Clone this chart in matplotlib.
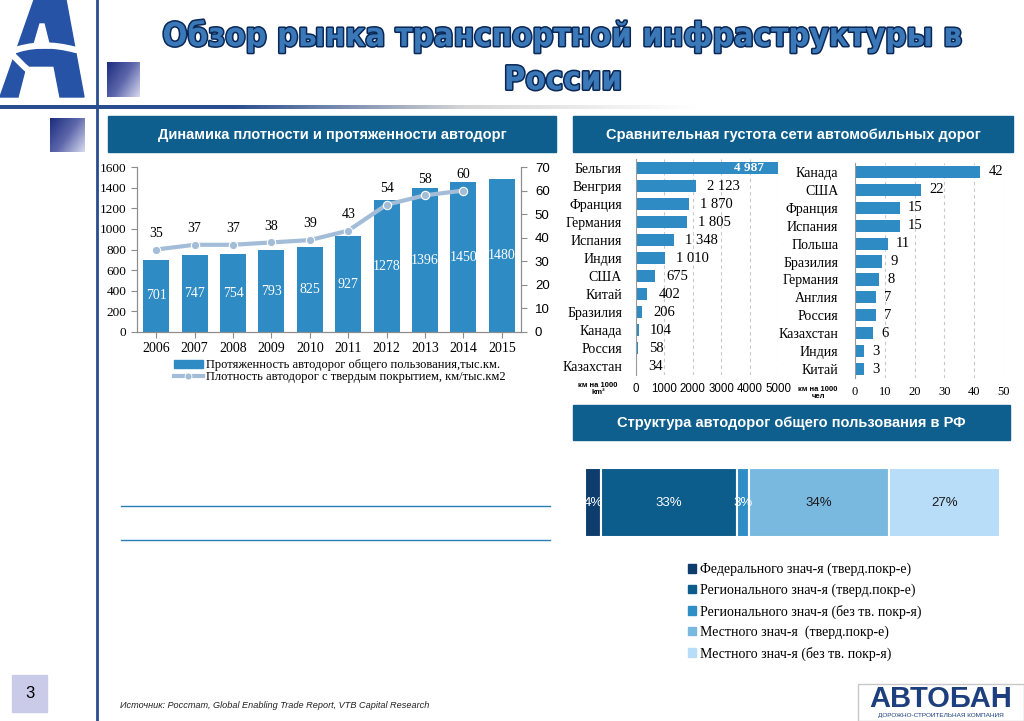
import numpy as np
import matplotlib
matplotlib.use('Agg')
import matplotlib.pyplot as plt
from matplotlib.patches import Rectangle, Polygon, PathPatch
from matplotlib.path import Path
from matplotlib.lines import Line2D
import matplotlib.patheffects as pe
from matplotlib.colors import LinearSegmentedColormap

W, H = 1024, 721

# --- data ---
years = ['2006', '2007', '2008', '2009', '2010', '2011', '2012', '2013', '2014', '2015']
length_km = [701, 747, 754, 793, 825, 927, 1278, 1396, 1450, 1480]
density = [35, 37, 37, 38, 39, 43, 54, 58, 60]

area_countries = ['Бельгия', 'Венгрия', 'Франция', 'Германия', 'Испания', 'Индия',
                  'США', 'Китай', 'Бразилия', 'Канада', 'Россия', 'Казахстан']
area_values = [4987, 2123, 1870, 1805, 1348, 1010, 675, 402, 206, 104, 58, 34]

pop_countries = ['Канада', 'США', 'Франция', 'Испания', 'Польша', 'Бразилия',
                 'Германия', 'Англия', 'Россия', 'Казахстан', 'Индия', 'Китай']
pop_values = [42, 22, 15, 15, 11, 9, 8, 7, 7, 6, 3, 3]

struct_labels = ['Федерального знач-я (тверд.покр-е)',
                 'Регионального знач-я (тверд.покр-е)',
                 'Регионального знач-я (без тв. покр-я)',
                 'Местного знач-я  (тверд.покр-е)',
                 'Местного знач-я (без тв. покр-я)']
struct_shares = [4, 33, 3, 34, 27]

# --- styles ---
serif = ['Liberation Serif', 'DejaVu Serif']
sans = ['Liberation Sans', 'DejaVu Sans']
hdr_c = '#0e5f8d'
bar_c = '#2f8bc3'
line_c = '#a3bdd8'
logo_c = '#2653a5'
struct_c = ['#0d3d6c', '#0c5c8c', '#2f8ec6', '#79b9df', '#b8ddf8']
struct_txt = ['white', 'white', 'white', '#1a1a1a', '#1a1a1a']


def rect(x0, y0, x1, y1):
    return [x0 / W, 1 - y1 / H, (x1 - x0) / W, (y1 - y0) / H]


fig = plt.figure(figsize=(10.24, 7.21), dpi=100)
fig.patch.set_facecolor('white')

# background layer in pixel coords
bg = fig.add_axes([0, 0, 1, 1])
bg.axis('off')

cm_line = LinearSegmentedColormap.from_list('l', ['#2a4d8f', '#2a4d8f', '#d6d6d6', '#ffffff'])
bg.imshow(np.linspace(0, 1, 200)[None, :], cmap=cm_line, extent=(0, 700, 109, 105), aspect='auto')
bg.plot([97, 97], [0, H], color='#2a4d8f', lw=2)

cm_sq = LinearSegmentedColormap.from_list('s', ['#1e2f80', '#5c66aa', '#d5d8ee'])
gx, gy = np.meshgrid(np.linspace(0, 1, 30), np.linspace(0, 1, 30))
for (x0, y0, x1, y1) in [(107, 62, 140, 97), (50, 118, 85, 152)]:
    bg.imshow(0.6 * gx + 0.4 * gy, cmap=cm_sq, extent=(x0, x1, y1, y0), aspect='auto')

# logo top-left: stylised "A" with a white road curve
bg.add_patch(Polygon([(34, 0), (66, 0), (84, 97), (60, 97), (54, 66), (26, 66),
                      (18, 97), (0, 97)], closed=True, color=logo_c))
bg.add_patch(Polygon([(40, 24), (44, 24), (50, 48), (33, 48)], closed=True, color='white'))
road = Path([(76, 50), (40, 40), (10, 52), (28, 72), (48, 86), (44, 97)],
            [Path.MOVETO, Path.CURVE3, Path.CURVE3, Path.CURVE3, Path.CURVE3, Path.LINETO])
bg.add_patch(PathPatch(road, fill=False, edgecolor='white', lw=4.5, capstyle='round'))

# title, fitted to the width of the reference title
title_fx = [pe.withStroke(linewidth=2.2, foreground='#0a2756')]
t1 = bg.text(563, 36, 'Обзор рынка транспортной инфраструктуры в', fontsize=30,
             fontweight='bold', family='DejaVu Sans', fontstretch='condensed',
             color='#3a78b8', ha='center', va='center', path_effects=title_fx)
t2 = bg.text(563, 80, 'России', fontsize=30, fontweight='bold', family='DejaVu Sans',
             fontstretch='condensed', color='#3a78b8', ha='center', va='center',
             path_effects=title_fx)
renderer = fig.canvas.get_renderer()
tw = t1.get_window_extent(renderer).width
fs = min(30, 30 * 798 / tw)
t1.set_fontsize(fs)
t2.set_fontsize(fs)

# header boxes
headers = [((108, 116, 556, 152), 'Динамика плотности и протяженности автодорг'),
           ((573, 116, 1013, 152), 'Сравнительная густота сети автомобильных дорог'),
           ((573, 405, 1010, 440), 'Структура автодорог общего пользования в РФ')]
for (x0, y0, x1, y1), t in headers:
    bg.add_patch(Rectangle((x0, y0), x1 - x0, y1 - y0, color=hdr_c))
    bg.text((x0 + x1) / 2, (y0 + y1) / 2 + 1, t, color='white', fontsize=10.5,
            fontweight='bold', family=sans, ha='center', va='center')

# separator lines bottom-left
for yy in [506, 540]:
    bg.plot([121, 550], [yy, yy], color='#2b7bb9', lw=1)

# footer
bg.add_patch(Rectangle((12, 675), 35, 37, color='#c9cbe9'))
bg.text(29.5, 694, '3', fontsize=12, family=sans, ha='center', va='center')
bg.text(120, 706, 'Источник: Росстат, Global Enabling Trade Report, VTB Capital Research',
        fontsize=6.6, style='italic', family=sans, color='#222222', va='center')
bg.add_patch(Rectangle((858, 684), 166, 37, fill=False, edgecolor='#c8c8c8', lw=1))
bg.text(941, 699, 'АВТОБАН', fontsize=21, fontweight='bold', family=sans,
        color='#1d3f7e', ha='center', va='center')
bg.text(941, 715.5, 'ДОРОЖНО-СТРОИТЕЛЬНАЯ КОМПАНИЯ', fontsize=4.6, family=sans,
        color='#1d3f7e', ha='center', va='center')

bg.set_xlim(0, W)
bg.set_ylim(H, 0)

# --- left chart: length + density ---
ax1 = fig.add_axes(rect(137, 167, 521, 332))
x = np.arange(len(years))
ax1.bar(x, length_km, width=0.68, color=bar_c, zorder=2)
for i, v in enumerate(length_km):
    ax1.text(i, v / 2, str(v), ha='center', va='center', color='white',
             fontsize=10, family=serif, zorder=3)
ax1.set_xlim(-0.5, 9.5)
ax1.set_ylim(0, 1600)
ax1.set_yticks(np.arange(0, 1601, 200))
ax1.set_xticks(x)
ax1.set_xticklabels(years)
ax1.spines['top'].set_visible(False)
for s in ['left', 'bottom', 'right']:
    ax1.spines[s].set_color('#8c8c8c')
ax1.tick_params(axis='both', colors='#8c8c8c', labelcolor='black', length=4, width=0.8)
for lab in ax1.get_xticklabels():
    lab.set_family(serif)
    lab.set_fontsize(10)
for lab in ax1.get_yticklabels():
    lab.set_family(serif)
    lab.set_fontsize(9.5)

ax2 = ax1.twinx()
ax2.plot(x[:len(density)], density, color=line_c, lw=3, marker='o', ms=6,
         markerfacecolor=line_c, markeredgecolor='white', markeredgewidth=0.8, zorder=4)
for i, v in enumerate(density):
    ax2.annotate(str(v), (i, v), xytext=(0, 7), textcoords='offset points',
                 ha='center', va='bottom', fontsize=10, family=serif)
ax2.set_ylim(0, 70)
ax2.set_yticks(np.arange(0, 71, 10))
ax2.spines['top'].set_visible(False)
for s in ['left', 'bottom', 'right']:
    ax2.spines[s].set_color('#8c8c8c')
ax2.tick_params(axis='y', colors='#8c8c8c', labelcolor='black', length=4, width=0.8,
                pad=6)
for lab in ax2.get_yticklabels():
    lab.set_family(sans)
    lab.set_fontsize(9.5)

h_bar = Rectangle((0, 0), 1, 1, color=bar_c)
h_line = Line2D([], [], color=line_c, lw=3, marker='o', ms=5, markeredgecolor='white',
                markeredgewidth=0.6)
fig.legend([h_bar, h_line],
           ['Протяженность автодорог общего пользования,тыс.км.',
            'Плотность автодорог с твердым покрытием, км/тыс.км2'],
           loc='upper left', bbox_to_anchor=(174 / W, 1 - 359 / H), frameon=False,
           prop={'family': serif, 'size': 9}, handlelength=2.3, handleheight=0.6,
           labelspacing=0.02, handletextpad=0.25, borderpad=0, borderaxespad=0)


def style_hbar(ax, labels, pad, xfont, xsize):
    ax.set_yticks(np.arange(len(labels)))
    ax.set_yticklabels(labels, family=serif, fontsize=10)
    ax.set_ylim(len(labels) - 0.5, -0.5)
    ax.tick_params(axis='y', length=0, pad=pad)
    ax.tick_params(axis='x', length=0, pad=6)
    for lab in ax.get_xticklabels():
        lab.set_family(xfont)
        lab.set_fontsize(xsize)
    ax.grid(axis='x', ls=(0, (3, 3)), color='#c8c8c8', lw=0.8, zorder=0)
    for s in ['top', 'right', 'bottom']:
        ax.spines[s].set_visible(False)
    ax.spines['left'].set_color('#9a9a9a')


# --- middle chart: density per area ---
ax3 = fig.add_axes(rect(636, 159, 778, 375))
ax3.barh(np.arange(len(area_values)), area_values, height=0.68, color=bar_c, zorder=2)
ax3.set_xlim(0, 5000)
ax3.set_xticks(np.arange(0, 5001, 1000))
style_hbar(ax3, area_countries, 10, sans, 8.3)
for i, v in enumerate(area_values):
    t = f'{v:,}'.replace(',', ' ')
    if i == 0:
        ax3.annotate(t, (v, i), xytext=(-10, 0), textcoords='offset points', ha='right',
                     va='center', color='white', fontweight='bold', fontsize=9.5,
                     family=serif)
    else:
        ax3.annotate(t, (v, i), xytext=(8, 0), textcoords='offset points', ha='left',
                     va='center', fontsize=10.5, family=serif)
bg.text(598, 389, 'км на 1000\nkm²', fontsize=5.5, fontweight='bold', family=sans,
        ha='center', va='center', linespacing=1.1)

# --- right chart: density per population ---
ax4 = fig.add_axes(rect(855, 163, 1004, 378))
ax4.barh(np.arange(len(pop_values)), pop_values, height=0.68, color=bar_c, zorder=2)
ax4.set_xlim(0, 50)
ax4.set_xticks(np.arange(0, 51, 10))
style_hbar(ax4, pop_countries, 12, serif, 9)
for i, v in enumerate(pop_values):
    ax4.annotate(str(v), (v, i), xytext=(6, 0), textcoords='offset points', ha='left',
                 va='center', fontsize=10.5, family=serif)
bg.text(818, 393, 'км на 1000\nчел', fontsize=5.5, fontweight='bold', family=sans,
        ha='center', va='center', linespacing=1.1)

# --- structure stacked bar ---
ax5 = fig.add_axes(rect(585, 468, 1000, 537))
left = 0
handles = []
for share, c, tc in zip(struct_shares, struct_c, struct_txt):
    ax5.barh(0, share, left=left, height=1.0, color=c, edgecolor='white', lw=1.5)
    ax5.text(left + share / 2, 0, f'{share}%', ha='center', va='center', color=tc,
             fontsize=9.5, family=sans)
    handles.append(Rectangle((0, 0), 1, 1, color=c))
    left += share
ax5.set_xlim(0, left)
ax5.set_ylim(-0.5, 0.5)
ax5.axis('off')

fig.legend(handles, struct_labels, loc='upper left',
           bbox_to_anchor=(688 / W, 1 - 563 / H), frameon=False,
           prop={'family': serif, 'size': 10}, handlelength=0.55, handleheight=0.55,
           labelspacing=0.52, handletextpad=0.35, borderpad=0, borderaxespad=0)

fig.savefig('out.png', dpi=100)
